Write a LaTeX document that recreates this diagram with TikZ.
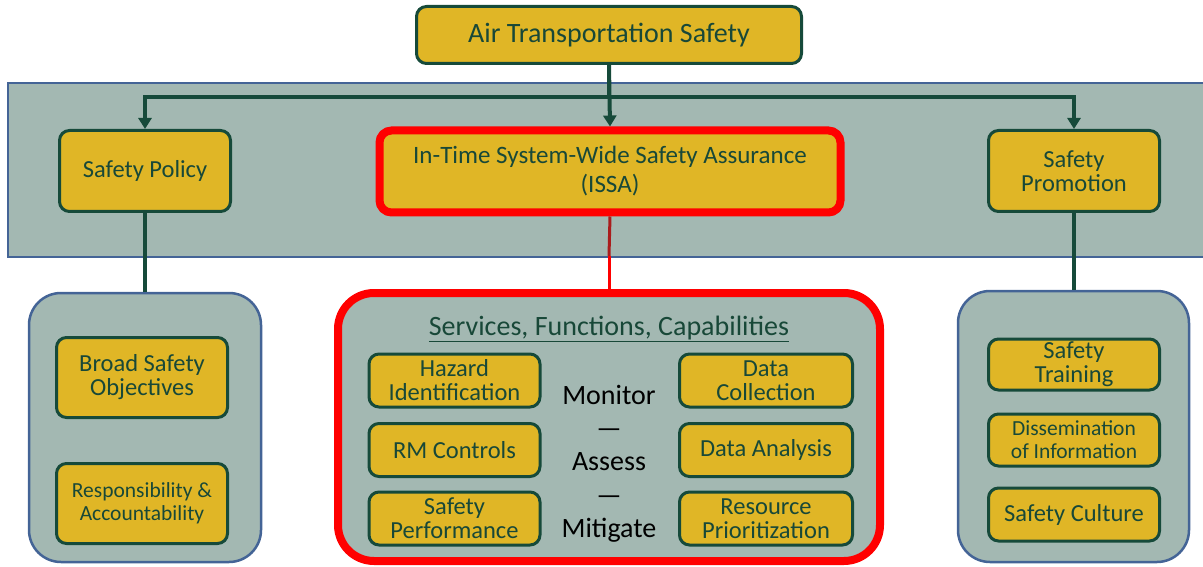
\documentclass[tikz,border=0pt]{standalone}
\usepackage{fontspec}
\setmainfont{Carlito}
\usetikzlibrary{arrows.meta}
\definecolor{gold}{RGB}{224,182,38}
\definecolor{dkgreen}{RGB}{22,74,58}
\definecolor{txtgreen}{RGB}{24,72,56}
\definecolor{bandfill}{RGB}{163,184,178}
\definecolor{bandblue}{RGB}{68,100,150}
\definecolor{darkred}{RGB}{170,28,28}
\definecolor{brightred}{RGB}{255,0,0}
\tikzset{
  goldbox/.style={draw=dkgreen, line width=3pt, fill=gold, rounded corners=10pt,
    text=txtgreen, align=center, inner sep=0pt, font=\fontsize{24.5}{24}\selectfont},
  smalltext/.style={font=\fontsize{21.5}{23}\selectfont},
  redbox/.style={goldbox, draw=brightred, line width=8pt, rounded corners=12pt},
  groupbox/.style={draw=bandblue, line width=2.5pt, fill=bandfill, rounded corners=32pt, inner sep=0pt},
  redgroup/.style={groupbox, draw=brightred, line width=8pt, rounded corners=36pt},
  conn/.style={draw=dkgreen, line width=4pt},
  arrowc/.style={conn, line join=miter, -{Triangle[width=13pt,length=11pt]}},
}
\begin{document}
\begin{tikzpicture}[x=1pt,y=-1pt]
\useasboundingbox (0,0) rectangle (1203,567);
% band
\path[fill=bandfill] (8,83) rectangle (1215,257);
\draw[bandblue, line width=2.5pt] (1215,83) -- (8,83) -- (8,257) -- (1215,257);

% top node
\node[goldbox, minimum width=385, minimum height=57, font=\fontsize{28}{28}\selectfont] (ats) at (609,35) {Air Transportation Safety};

% second level
\node[goldbox, minimum width=171, minimum height=81] (sp) at (145,171) {Safety Policy};
\node[redbox, minimum width=461, minimum height=82, font=\fontsize{25}{29}\selectfont] (issa) at (610,171.5) {In-Time System-Wide Safety Assurance\\(ISSA)};
\node[goldbox, minimum width=171, minimum height=81] (promo) at (1074,171) {Safety\\Promotion};

% connectors top
\coordinate (hl) at (609,97);
\draw[conn] (ats.south) -- (hl);
\draw[arrowc] (hl) -| (sp.north);
\draw[arrowc] (hl) -| (promo.north);
\draw[arrowc] (ats.south) -- (issa.north);

% lower group boxes
\node[groupbox, minimum width=232, minimum height=269] (lbox) at (145,427.5) {};
\node[redgroup, minimum width=542, minimum height=268] (cbox) at (609,427) {};
\node[groupbox, minimum width=231, minimum height=271] (rbox) at (1073.5,426.5) {};

% connectors down
\draw[conn] (sp.south) -- (sp.south |- lbox.north);
\draw[conn] (promo.south) -- (promo.south |- rbox.north);
\coordinate (bandbot) at (609,256);
\draw[darkred, line width=3pt] (issa.south) -- (bandbot);
\draw[brightred, line width=3pt] (bandbot) -- (cbox.north);

% left group
\node[goldbox, minimum width=171, minimum height=80] (bso) at (142,377.5) {Broad Safety\\Objectives};
\node[goldbox, smalltext, minimum width=171, minimum height=80] (ra) at (142,503.5) {Responsibility \&\\Accountability};

% center group
\node[text=txtgreen, font=\fontsize{28}{28}\selectfont, inner sep=0pt] (sfc) at (609,329) {\underline{Services, Functions, Capabilities}};
\node[goldbox, minimum width=171, minimum height=53] (hi) at (454.5,380.5) {Hazard\\Identification};
\node[goldbox, minimum width=171, minimum height=53] (rmc) at (454.5,450) {RM Controls};
\node[goldbox, minimum width=171, minimum height=53] (spf) at (454.5,518.5) {Safety\\Performance};
\node[goldbox, minimum width=173, minimum height=53] (dc) at (766,380.5) {Data\\Collection};
\node[goldbox, minimum width=173, minimum height=53] (da) at (766,450) {Data Analysis};
\node[goldbox, minimum width=173, minimum height=53] (rp) at (766,518.5) {Resource\\Prioritization};
\node[align=center, text=black, inner sep=0pt, font=\fontsize{28}{33.3}\selectfont] (mam) at (609,463.5) {Monitor\\—\\Assess\\—\\Mitigate};

% right group
\node[goldbox, minimum width=171, minimum height=51] (st) at (1074,364.5) {Safety\\Training};
\node[goldbox, smalltext, minimum width=171, minimum height=52] (doi) at (1074,440) {Dissemination\\of Information};
\node[goldbox, minimum width=171, minimum height=53] (sc) at (1074,514.5) {Safety Culture};
\end{tikzpicture}
\end{document}
